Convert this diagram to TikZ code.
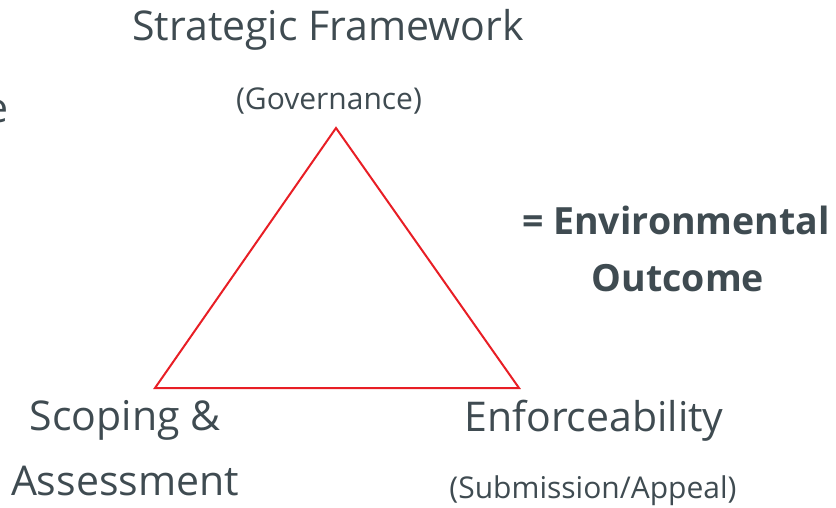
\documentclass[tikz,border=0pt]{standalone}
\usepackage{fontspec}
\setmainfont{Open Sans}
\definecolor{slate}{HTML}{3F4B51}
\definecolor{trired}{HTML}{E81E25}
\begin{document}
\begin{tikzpicture}[x=1pt,y=-1pt,
    label/.style={text=slate,inner sep=0pt,font=\fontsize{41}{48}\selectfont},
    sublabel/.style={text=slate,inner sep=0pt,font=\fontsize{30}{34}\selectfont},
    outcome/.style={text=slate,inner sep=0pt,font=\fontsize{37.5}{44}\selectfont\bfseries}]
  \useasboundingbox (0,0) rectangle (836,508);
  \clip (0,0) rectangle (836,508);
  \coordinate (top) at (336,128);
  \coordinate (left) at (155,388);
  \coordinate (right) at (519,388);
  \draw[trired,line width=2pt,line join=miter] (top) -- (right) -- (left) -- cycle;
  \node[label] (strat) at (328,30) {Strategic Framework};
  \node[sublabel] (gov) at (329,101) {(Governance)};
  \node[label,anchor=east] (frag) at (9,112) {e};
  \node[outcome] (env) at (676,220) {= Environmental};
  \node[outcome] (out) at (678,278) {Outcome};
  \node[label] (scop) at (125,420) {Scoping \&};
  \node[label] (assess) at (125,481) {Assessment};
  \node[label] (enf) at (594,421) {Enforceability};
  \node[sublabel] (subm) at (593,491) {(Submission/Appeal)};
\end{tikzpicture}
\end{document}
